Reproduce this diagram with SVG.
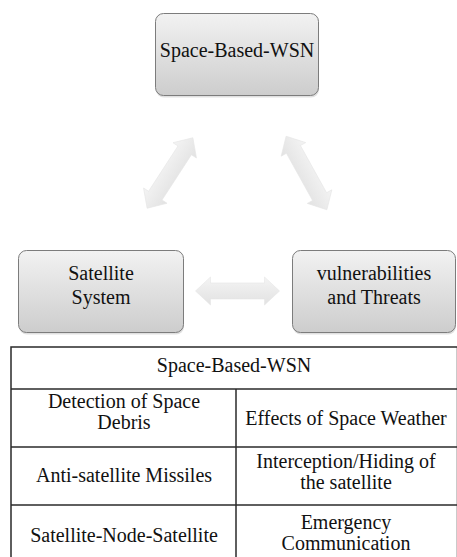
<svg xmlns="http://www.w3.org/2000/svg" width="457" height="557" viewBox="0 0 457 557">
  <defs>
    <linearGradient id="boxFill" x1="0" y1="0" x2="0" y2="1">
      <stop offset="0" stop-color="#f2f2f2"/>
      <stop offset="1" stop-color="#cdcdcd"/>
    </linearGradient>
    <linearGradient id="arrowFill" x1="0" y1="0" x2="0" y2="1">
      <stop offset="0" stop-color="#f4f4f4"/>
      <stop offset="1" stop-color="#e2e2e2"/>
    </linearGradient>
    <path id="dblArrow" d="M -42 0 L -27 -14 L -27 -8 L 27 -8 L 27 -14 L 42 0 L 27 14 L 27 8 L -27 8 L -27 14 Z"/>
  </defs>
  <style>
    text { font-family: 'Times New Roman', 'Liberation Serif', serif; font-size: 20px; fill: #111; text-anchor: middle; }
    .shadow { fill: #000; opacity: 0.12; }
    .box { fill: url(#boxFill); stroke: #7c7c7c; stroke-width: 1; }
    .arrow { fill: url(#arrowFill); stroke: #e6e6e6; stroke-width: 0.6; }
    .grid { stroke: #2a2a2a; stroke-width: 1.5; fill: none; }
  </style>

  <!-- connectors -->
  <g id="connectors">
    <use href="#dblArrow" class="arrow" transform="translate(170 173) rotate(-57)"/>
    <use href="#dblArrow" class="arrow" transform="translate(306.5 173) rotate(61)"/>
    <use href="#dblArrow" class="arrow" transform="translate(237.5 291)"/>
  </g>

  <!-- nodes -->
  <g id="node-wsn">
    <rect class="shadow" x="156" y="15.5" width="163" height="82" rx="8"/>
    <rect class="box" x="155.5" y="13.5" width="163" height="82" rx="8"/>
    <text x="237" y="57">Space-Based-WSN</text>
  </g>
  <g id="node-satellite">
    <rect class="shadow" x="19" y="252.5" width="165" height="82" rx="8"/>
    <rect class="box" x="18.5" y="250.5" width="165" height="82" rx="8"/>
    <text x="101" y="280">Satellite</text>
    <text x="101" y="304">System</text>
  </g>
  <g id="node-threats">
    <rect class="shadow" x="293" y="252.5" width="163" height="82" rx="8"/>
    <rect class="box" x="292.5" y="250.5" width="163" height="82" rx="8"/>
    <text x="374" y="280">vulnerabilities</text>
    <text x="374" y="304">and Threats</text>
  </g>

  <!-- summary table -->
  <g id="table">
    <rect class="grid" x="11" y="347" width="446.5" height="215"/>
    <line class="grid" x1="11" y1="389" x2="458" y2="389"/>
    <line class="grid" x1="11" y1="447" x2="458" y2="447"/>
    <line class="grid" x1="11" y1="505" x2="458" y2="505"/>
    <line class="grid" x1="236" y1="389" x2="236" y2="560"/>

    <text x="234" y="372">Space-Based-WSN</text>

    <text x="124" y="408">Detection of Space</text>
    <text x="124" y="429">Debris</text>
    <text x="346" y="425">Effects of Space Weather</text>

    <text x="124" y="482">Anti-satellite Missiles</text>
    <text x="346" y="468">Interception/Hiding of</text>
    <text x="346" y="489">the satellite</text>

    <text x="124" y="542">Satellite-Node-Satellite</text>
    <text x="346" y="529">Emergency</text>
    <text x="346" y="550">Communication</text>
  </g>
</svg>
